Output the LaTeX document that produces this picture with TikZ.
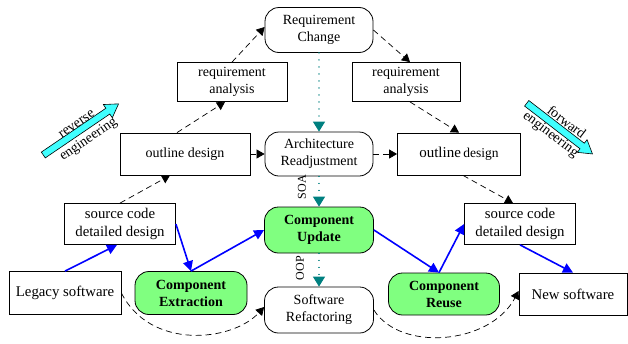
\documentclass[tikz,border=0pt]{standalone}
\usepackage{fontspec}
\setmainfont{Liberation Serif}
\usetikzlibrary{arrows.meta,calc}
\definecolor{tealc}{RGB}{0,128,128}
\definecolor{cmpgreen}{RGB}{128,255,128}
\definecolor{cyanarrow}{RGB}{64,255,255}
\begin{document}
\begin{tikzpicture}[x=1pt,y=-1pt,
  box/.style={draw, line width=0.8pt, align=center, inner sep=0pt, font=\fontsize{14}{17}\selectfont},
  bigtext/.style={font=\fontsize{14.8}{17.5}\selectfont},
  rbox/.style={box, rounded corners=14pt},
  gbox/.style={rbox, fill=cmpgreen, font=\fontsize{14}{17}\selectfont\bfseries},
  sz/.style 2 args={minimum width=#1pt, minimum height=#2pt},
  darr/.style={dash pattern=on 6pt off 4pt, line width=0.7pt, -{Triangle[length=8pt,width=9pt]}},
  barr/.style={draw=blue, line width=1.6pt, -{Triangle[length=10pt,width=10pt]}},
  tarr/.style={draw=tealc, line width=1.3pt, dash pattern=on 0.01pt off 7pt, line cap=round, -{Triangle[length=10pt,width=12pt]}},
  bigarrow/.style={draw, line width=0.6pt, fill=cyanarrow, line join=miter},
  small/.style={font=\fontsize{14}{16}\selectfont, inner sep=0pt, anchor=base}
]
\useasboundingbox (0,0) rectangle (628,343);

% nodes
\node[rbox, sz={108}{45}] (rc) at (319,30) {Requirement\\Change};
\node[box, sz={110}{39}] (ral) at (232,82) {requirement\\analysis};
\node[box, sz={108}{39}] (rar) at (406,82) {requirement\\analysis};
\node[box, sz={130}{42}] (odl) at (185,154) {outline design};
\node[rbox, sz={108}{44}] (ar) at (319,154) {Architecture\\Readjustment};
\node[box, sz={123}{42}] (odr) at (459,154) {\fontsize{15}{17}\selectfont outline\,\fontsize{13.5}{17}\selectfont design};
\node[box, bigtext, sz={111}{41}] (scl) at (120,224) {source code\\detailed design};
\node[gbox, sz={109}{46}] (cu) at (319,230) {Component\\Update};
\node[box, bigtext, sz={111}{41}] (scr) at (520,224) {source code\\detailed design};
\node[box, bigtext, sz={112}{43}] (leg) at (65,293) {Legacy software};
\node[gbox, sz={112}{43}] (ce) at (191,293) {Component\\Extraction};
\node[rbox, sz={109}{46}] (sr) at (319,310) {Software\\Refactoring};
\node[gbox, sz={111}{42}] (cr) at (444,294) {Component\\Reuse};
\node[box, bigtext, sz={108}{42}] (ns) at (573,294) {New software};

% labels
\node[font=\fontsize{12}{14}\selectfont, inner sep=0pt, rotate=90] (soa) at (302,187) {SOA};
\node[font=\fontsize{12}{14}\selectfont, inner sep=0pt, rotate=90] (oop) at (300,268) {OOP};

% reverse engineering arrow
\begin{scope}[shift={(43.3,155)}, rotate=34.2]
  \draw[bigarrow] (0,-3.5) -- (78,-3.5) -- (78,-8) -- (91,0) -- (78,8) -- (78,3.5) -- (0,3.5) -- cycle;
  \node[small, rotate=34.2] (revt) at (45,-3.5) {reverse};
  \node[small, rotate=34.2] (reng) at (46,16) {engineering};
\end{scope}
% forward engineering arrow
\begin{scope}[shift={(526.7,103.3)}, rotate=-37.6]
  \draw[bigarrow] (0,-3.5) -- (70,-3.5) -- (70,-8) -- (83,0) -- (70,8) -- (70,3.5) -- (0,3.5) -- cycle;
  \node[small, rotate=-37.6] (fwdt) at (43,-5) {forward};
  \node[small, rotate=-37.6] (feng) at (38,13.5) {engineering};
\end{scope}

% dashed arrows
\draw[darr] (ral.north) -- ([yshift=3pt]rc.west);
\draw[darr] (rc.east) -- ([xshift=4pt]rar.north);
\draw[darr] ([xshift=-8pt]odl.north) -- ([xshift=-7pt]ral.south);
\draw[darr] ([xshift=4pt]rar.south) -- (odr.north);
\draw[darr] (scl.north) -- ([xshift=-15pt]odl.south);
\draw[darr] ([xshift=4pt]odr.south) -- ([xshift=-7pt]scr.north);
\draw[darr] (odl.east) -- (ar.west);
\draw[darr] (ar.east) -- (odr.west);
\draw[darr] (leg.east) .. controls (150,350) and (232,342) .. ([yshift=3pt]sr.west);
\draw[darr] (sr.east) .. controls (400,352) and (490,345) .. ([yshift=3pt]ns.west);

% teal dotted arrows
\draw[tarr] (rc.south) -- (ar.north);
\draw[tarr] (ar.south) -- (cu.north);
\draw[tarr] (cu.south) -- (sr.north);

% blue arrows
\draw[barr] (leg.north) -- ([xshift=-3pt]scl.south);
\draw[barr] (scl.east) -- (ce.north);
\draw[barr] (ce.north) -- (cu.west);
\draw[barr] (cu.east) -- ([xshift=-5pt]cr.north);
\draw[barr] ([xshift=-5pt]cr.north) -- (scr.west);
\draw[barr] (scr.south) -- (ns.north);
\end{tikzpicture}
\end{document}
